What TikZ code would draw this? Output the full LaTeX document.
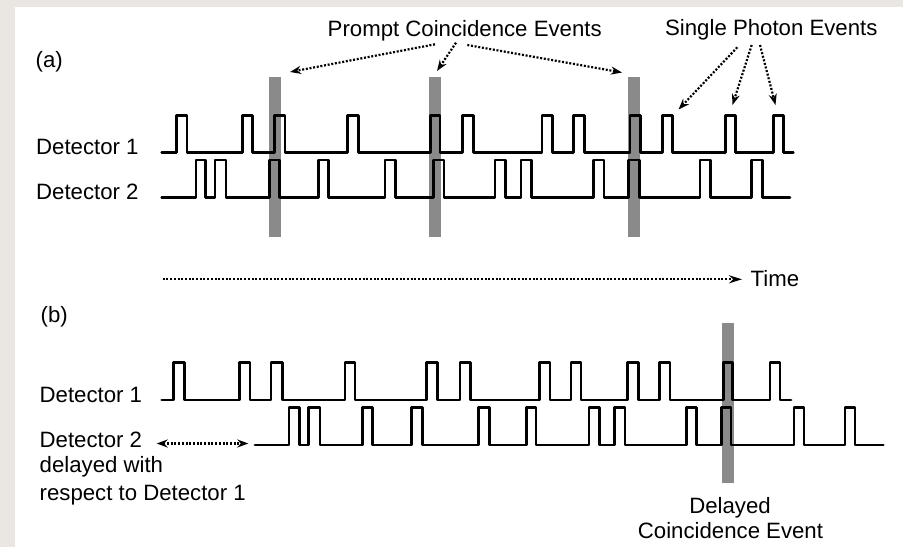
\documentclass[tikz,border=0pt]{standalone}
\usepackage{fontspec}
\setmainfont{Liberation Sans}
\usetikzlibrary{arrows.meta}
\definecolor{framegray}{RGB}{234,231,227}
\tikzset{
  pulse/.style={line width=2.8pt, line join=round, line cap=round, black},
  evbar/.style={fill=black, fill opacity=0.46},
  lbl/.style={inner sep=0pt, font=\fontsize{22.2}{26}\selectfont},
  dotarrow/.style={line width=2.2pt, dash pattern=on 2pt off 1.7pt, -{Stealth[length=11pt,width=8pt]}},
  dotdarrow/.style={line width=2.2pt, dash pattern=on 2pt off 1.7pt, {Stealth[length=11pt,width=8pt]}-{Stealth[length=11pt,width=8pt]}},
}
\newcommand\ptrain[5]{%
  \draw[pulse] (#1,#3) foreach \a/\b in {#5} { -- (\a,#3) -- (\a,#4) -- (\b,#4) -- (\b,#3) } -- (#2,#3);}
\begin{document}
\begin{tikzpicture}[x=1pt,y=-1pt]
\useasboundingbox (0,0) rectangle (903,547);
\fill[framegray] (0,0) rectangle (903,547);
\fill[white] (15,7) rectangle (903,547);

% ---------- (a) ----------
\node[lbl, anchor=base west] (la) at (35.5,67.5) {(a)};
\node[lbl, anchor=base west] (a1) at (36,154.3) {Detector 1};
\node[lbl, anchor=base west] (a2) at (36,199) {Detector 2};

\ptrain{161.7}{793.3}{152.3}{115.7}{176.7/187, 242.7/252.3, 274.3/285, 347.7/358.3, 430.7/440, 462.7/473.3, 542/552.3, 573.3/584.3, 630/640.7, 662.7/672.7, 725.7/735.5, 773.3/783.3}
\ptrain{161.7}{790}{197.3}{160}{196/205.5, 215/226, 269.5/279.5, 318.3/328.3, 385/395.7, 433.5/444, 495/505.7, 521/531.7, 593.3/604, 628.3/639.3, 700/710.7, 751.7/762.7}

\fill[evbar] (269,77.3) rectangle (281,236.5);
\fill[evbar] (429,77.3) rectangle (440.7,236.5);
\fill[evbar] (628,77.3) rectangle (639.5,236.5);

\node[lbl, anchor=base] (pce) at (464.7,36) {Prompt Coincidence Events};
\coordinate (p1s) at (435,44.3);  \coordinate (p1e) at (290,72);
\coordinate (p2s) at (456,42.7);  \coordinate (p2e) at (437,71);
\coordinate (p3s) at (467.3,45);  \coordinate (p3e) at (622,72.5);
\draw[dotarrow] (p1s) -- (p1e);
\draw[dotarrow] (p2s) -- (p2e);
\draw[dotarrow] (p3s) -- (p3e);

\node[lbl, anchor=base] (spe) at (771.3,35) {Single Photon Events};
\coordinate (s1s) at (737.3,47.3); \coordinate (s1e) at (678.5,109.5);
\coordinate (s2s) at (751.7,45);   \coordinate (s2e) at (732.5,105);
\coordinate (s3s) at (760,45);     \coordinate (s3e) at (775.5,105);
\draw[dotarrow] (s1s) -- (s1e);
\draw[dotarrow] (s2s) -- (s2e);
\draw[dotarrow] (s3s) -- (s3e);

% ---------- time axis ----------
\node[lbl, anchor=base west] (time) at (750.5,286) {Time};
\coordinate (t0) at (162.7,279.3);
\coordinate (t1) at (742,279.3);
\draw[dotarrow, -{Stealth[length=13pt,width=8pt]}] (t0) -- (t1);

% ---------- (b) ----------
\node[lbl, anchor=base west] (lb) at (40.5,322.5) {(b)};
\node[lbl, anchor=base west] (b1) at (39.5,402.7) {Detector 1};
\node[lbl, anchor=base west] (b2) at (39.5,447.7) {Detector 2};
\node[lbl, anchor=base west] (b2b) at (39.5,472.7) {delayed with};
\node[lbl, anchor=base west] (b2c) at (39.5,500) {respect to Detector 1};

\ptrain{161.7}{791}{400}{362.3}{173.3/184.3, 239.3/250, 271/282.3, 345/355, 426.7/437.3, 460/470.7, 539.3/550, 571/581, 627.7/638.3, 659.3/670, 723.3/732.7, 770/780}
\ptrain{255}{883.3}{445}{407.3}{289/299.3, 308.3/320, 362.3/372.7, 411.7/422.7, 478.3/489.3, 526.7/536, 589/599.3, 614.3/625, 686.7/696.7, 721.7/731, 794/804, 845/855}

\fill[evbar] (722,323.3) rectangle (733.8,482.7);

\coordinate (d0) at (156.7,443.5); \coordinate (d1) at (248.3,443.5);
\draw[dotdarrow] (d0) -- (d1);

\node[lbl, anchor=base] (dce1) at (730,513) {Delayed};
\node[lbl, anchor=base] (dce2) at (730.5,538) {Coincidence Event};
\end{tikzpicture}
\end{document}
